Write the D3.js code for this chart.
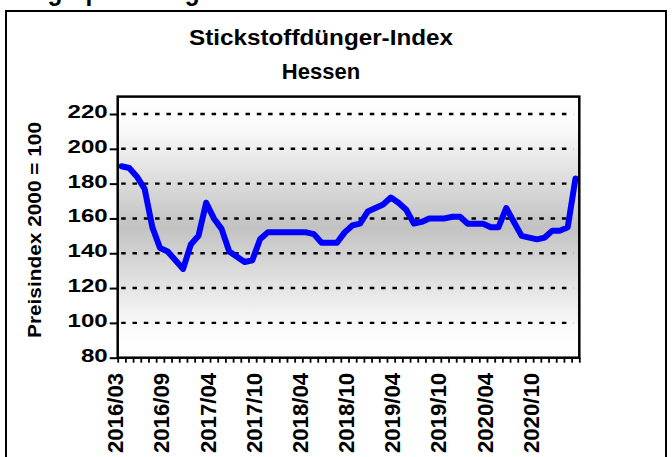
<!DOCTYPE html>
<html>
<head>
<meta charset="utf-8">
<script src="https://cdn.jsdelivr.net/npm/d3@7"></script>
<style>
  body { margin: 0; background: #fff; }
  text { font-family: "Liberation Sans", Arial, sans-serif; font-weight: bold; fill: #000; }
</style>
</head>
<body>
<div id="chart"></div>
<script>
var months = [
  '2016/03','2016/04','2016/05','2016/06','2016/07','2016/08','2016/09','2016/10','2016/11','2016/12','2017/02','2017/03',
  '2017/04','2017/05','2017/06','2017/07','2017/08','2017/09','2017/10','2017/11','2017/12',
  '2018/01','2018/02','2018/03','2018/04','2018/05','2018/06','2018/07','2018/08','2018/09','2018/10','2018/11','2018/12',
  '2019/01','2019/02','2019/03','2019/04','2019/05','2019/06','2019/07','2019/08','2019/09','2019/10','2019/11','2019/12',
  '2020/01','2020/02','2020/03','2020/04','2020/05','2020/06','2020/07','2020/08','2020/09','2020/10','2020/11','2020/12',
  '2021/01','2021/02','2021/03'
]
var values = [
  190, 189, 184, 177, 155, 143, 141, 136, 131, 145,
  150, 169, 160, 154, 141, 138, 135, 136, 148, 152,
  152, 152, 152, 152, 152, 151, 146, 146, 146, 152,
  156, 157, 164, 166, 168, 172, 169, 165, 157, 158,
  160, 160, 160, 161, 161, 157, 157, 157, 155, 155,
  166, 158, 150, 149, 148, 149, 153, 153, 155, 183
]
var labelEvery = 6
var tickLabels = months.filter(function(d, i) { return i % labelEvery === 0 })
var yTicks = [80, 100, 120, 140, 160, 180, 200, 220]

var width = 672
var height = 457
var plot = {left: 117.7, right: 579.3, top: 96.6, bottom: 357.7}

var svg = d3.select('#chart')
  .append('svg')
  .attr('width', width)
  .attr('height', height)

// heading of the page above the chart, only its descenders reach into the picture
svg.append('text')
  .attr('x', 0)
  .attr('y', 0)
  .attr('font-size', 28)
  .attr('textLength', 262)
  .attr('lengthAdjust', 'spacingAndGlyphs')
  .text('Düngerpreise legen zu')

// outer frame
svg.append('rect')
  .attr('x', 6)
  .attr('y', 11)
  .attr('width', 660)
  .attr('height', 480)
  .attr('fill', 'none')
  .attr('stroke', '#000')
  .attr('stroke-width', 2)

svg.append('text')
  .attr('x', 321)
  .attr('y', 45)
  .attr('text-anchor', 'middle')
  .attr('font-size', 22)
  .attr('textLength', 264)
  .attr('lengthAdjust', 'spacingAndGlyphs')
  .text('Stickstoffdünger-Index')

svg.append('text')
  .attr('x', 321)
  .attr('y', 79)
  .attr('text-anchor', 'middle')
  .attr('font-size', 22)
  .text('Hessen')

var xScale = d3.scaleLinear().domain([-0.5, months.length - 0.5]).range([plot.left, plot.right])
var yScale = d3.scaleLinear().domain([80, 230]).range([plot.bottom, plot.top])

var grad = svg.append('defs').append('linearGradient')
  .attr('id', 'bg')
  .attr('x1', 0).attr('y1', 0).attr('x2', 0).attr('y2', 1)
grad.selectAll('stop')
  .data([[0, '#ffffff'], [0.12, '#fafafa'], [0.5, '#c2c2c2'], [0.88, '#fafafa'], [1, '#ffffff']])
  .enter().append('stop')
  .attr('offset', d => d[0])
  .attr('stop-color', d => d[1])

svg.append('rect')
  .attr('x', plot.left)
  .attr('y', plot.top)
  .attr('width', plot.right - plot.left)
  .attr('height', plot.bottom - plot.top)
  .attr('fill', 'url(#bg)')

// dotted grid
svg.append('g')
  .selectAll('line')
  .data(yTicks.slice(1))
  .enter().append('line')
  .attr('x1', plot.left + 3.5)
  .attr('x2', plot.right - 6)
  .attr('y1', d => yScale(d))
  .attr('y2', d => yScale(d))
  .attr('stroke', '#000')
  .attr('stroke-width', 2.4)
  .attr('stroke-dasharray', '4.5,6.8')

var line = d3.line()
  .x((d, i) => xScale(i))
  .y(d => yScale(d))

svg.append('path')
  .datum(values)
  .attr('d', line)
  .attr('fill', 'none')
  .attr('stroke', '#0000ff')
  .attr('stroke-width', 6)
  .attr('stroke-linejoin', 'round')
  .attr('stroke-linecap', 'round')

// frame
svg.append('rect')
  .attr('x', plot.left)
  .attr('y', plot.top)
  .attr('width', plot.right - plot.left)
  .attr('height', plot.bottom - plot.top)
  .attr('fill', 'none')
  .attr('stroke', '#000')
  .attr('stroke-width', 2.5)

var yAxis = d3.axisLeft(yScale).tickValues(yTicks).tickSize(8).tickPadding(2)
var gy = svg.append('g')
  .attr('transform', 'translate(' + plot.left + ',0)')
  .call(yAxis)
gy.select('.domain').remove()
gy.selectAll('.tick line').attr('stroke', '#000').attr('stroke-width', 2)
gy.selectAll('.tick text')
  .attr('font-size', 19)
  .attr('font-family', null)
  .attr('dy', '0.18em')
  .attr('textLength', d => String(d).length * 13.4)
  .attr('lengthAdjust', 'spacingAndGlyphs')

var xAxis = d3.axisBottom(xScale)
  .tickValues(d3.range(months.length + 1).map(i => i - 0.5))
  .tickSize(5)
  .tickFormat('')
var gx = svg.append('g')
  .attr('transform', 'translate(0,' + plot.bottom + ')')
  .call(xAxis)
gx.select('.domain').remove()
gx.selectAll('.tick line').attr('stroke', '#000').attr('stroke-width', 1.8)

svg.append('g')
  .selectAll('text')
  .data(tickLabels)
  .enter().append('text')
  .attr('transform', d => 'translate(' + (xScale(months.indexOf(d)) - 6) + ',373) rotate(-90)')
  .attr('text-anchor', 'end')
  .attr('dy', '0.35em')
  .attr('font-size', 22)
  .attr('textLength', 80)
  .attr('lengthAdjust', 'spacingAndGlyphs')
  .text(d => d)

svg.append('text')
  .attr('transform', 'translate(35,230) rotate(-90)')
  .attr('text-anchor', 'middle')
  .attr('dy', '0.35em')
  .attr('font-size', 18.5)
  .attr('textLength', 216)
  .attr('lengthAdjust', 'spacingAndGlyphs')
  .text('Preisindex 2000 = 100')
</script>
</body>
</html>
